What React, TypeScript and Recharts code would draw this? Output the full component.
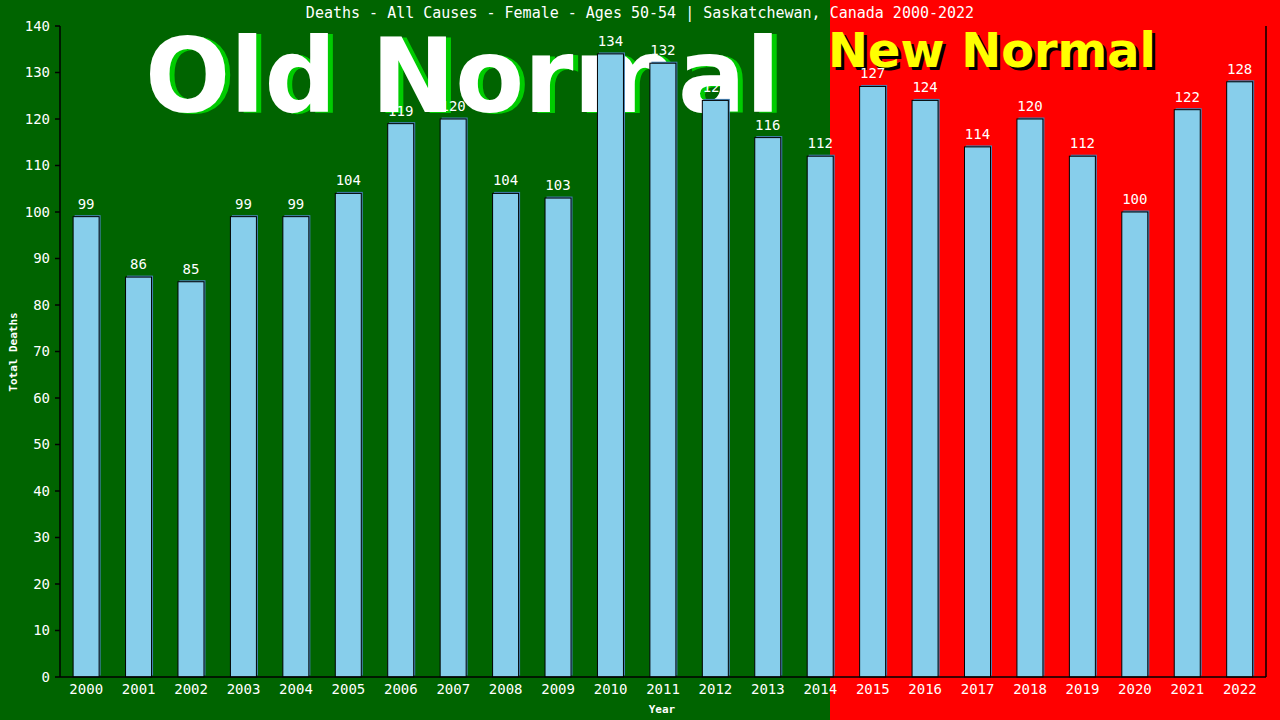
import React from "react";
import { BarChart, Bar, XAxis, YAxis, LabelList } from "recharts";

const years = [
  "2000", "2001", "2002", "2003", "2004", "2005", "2006", "2007", "2008", "2009", "2010", "2011",
  "2012", "2013", "2014", "2015", "2016", "2017", "2018", "2019", "2020", "2021", "2022",
];
const deaths = [99, 86, 85, 99, 99, 104, 119, 120, 104, 103, 134, 132, 124, 116, 112, 127, 124, 114, 120, 112, 100, 122, 128];
const yTicks = [0, 10, 20, 30, 40, 50, 60, 70, 80, 90, 100, 110, 120, 130, 140];

const data = years.map((year, i) => ({ year, deaths: deaths[i] }));

const MONO = "'DejaVu Sans Mono', monospace";
const SANS_BOLD = "'DejaVu Sans', Verdana, sans-serif";

// sky blue bar with a thin steel blue edge up and to the right
const ShadowBar = (props: any) => {
  const { x, y, width, height } = props;
  if (!height) return null;
  return (
    <g>
      <rect x={x + 1.5} y={y - 1.5} width={width} height={height} fill="#4682B4" />
      <rect x={x} y={y} width={width} height={height} fill="#87CEEB" stroke="#000" strokeWidth={1} />
    </g>
  );
};

export default function App() {
  return (
    <div
      style={{
        position: "absolute",
        left: 0,
        top: 0,
        width: 1280,
        height: 720,
        background: "linear-gradient(to right, #006400 0px, #006400 830px, #FF0000 830px, #FF0000 1280px)",
        overflow: "hidden",
      }}
    >
      <svg width={1280} height={720} style={{ position: "absolute", left: 0, top: 0 }}>
        <text x={640} y={18} textAnchor="middle" fill="#fff" fontFamily={MONO} fontSize={15}>
          Deaths - All Causes - Female - Ages 50-54 | Saskatchewan, Canada 2000-2022
        </text>
        <text x={150} y={113} fill="#00CC00" fontFamily={SANS_BOLD} fontWeight="bold" fontSize={104}
          textLength={635} lengthAdjust="spacingAndGlyphs">
          Old Normal
        </text>
        <text x={145} y={112} fill="#fff" fontFamily={SANS_BOLD} fontWeight="bold" fontSize={104}
          textLength={635} lengthAdjust="spacingAndGlyphs">
          Old Normal
        </text>
        <text x={831} y={70} fill="#000" fontFamily={SANS_BOLD} fontWeight="bold" fontSize={48}
          textLength={328} lengthAdjust="spacingAndGlyphs">
          New Normal
        </text>
        <text x={828} y={67} fill="#FFFF00" fontFamily={SANS_BOLD} fontWeight="bold" fontSize={48}
          textLength={328} lengthAdjust="spacingAndGlyphs">
          New Normal
        </text>
        <text x={17} y={352} transform="rotate(-90, 17, 352)" textAnchor="middle" fill="#fff"
          fontFamily={MONO} fontWeight="bold" fontSize={11}>
          Total Deaths
        </text>
        <text x={662} y={713} textAnchor="middle" fill="#fff" fontFamily={MONO} fontWeight="bold" fontSize={11}>
          Year
        </text>
      </svg>
      <div style={{ position: "absolute", left: 0, top: 0 }}>
        <BarChart
          width={1280}
          height={720}
          data={data}
          margin={{ top: 26, right: 0, bottom: 0, left: 0 }}
          barCategoryGap="25%"
        >
          <XAxis
            dataKey="year"
            height={43}
            tickLine={false}
            tickSize={4}
            tickMargin={3}
            axisLine={{ stroke: "#000", strokeWidth: 1.5 }}
            tick={{ fill: "#fff", fontFamily: MONO, fontSize: 14 }}
            interval={0}
          />
          <YAxis
            yAxisId="left"
            domain={[0, 140]}
            ticks={yTicks}
            width={60}
            tickSize={5}
            tickMargin={5}
            axisLine={{ stroke: "#000", strokeWidth: 1.5 }}
            tickLine={{ stroke: "#000", strokeWidth: 1.5 }}
            tick={{ fill: "#fff", fontFamily: MONO, fontSize: 14 }}
            interval={0}
          />
          <YAxis
            yAxisId="right"
            orientation="right"
            domain={[0, 140]}
            width={14}
            tick={false}
            tickLine={false}
            axisLine={{ stroke: "#000", strokeWidth: 1.5 }}
          />
          <Bar dataKey="deaths" yAxisId="left" shape={ShadowBar} isAnimationActive={false}>
            <LabelList dataKey="deaths" position="top" offset={8} fill="#fff" fontFamily={MONO} fontSize={14} />
          </Bar>
        </BarChart>
      </div>
    </div>
  );
}
